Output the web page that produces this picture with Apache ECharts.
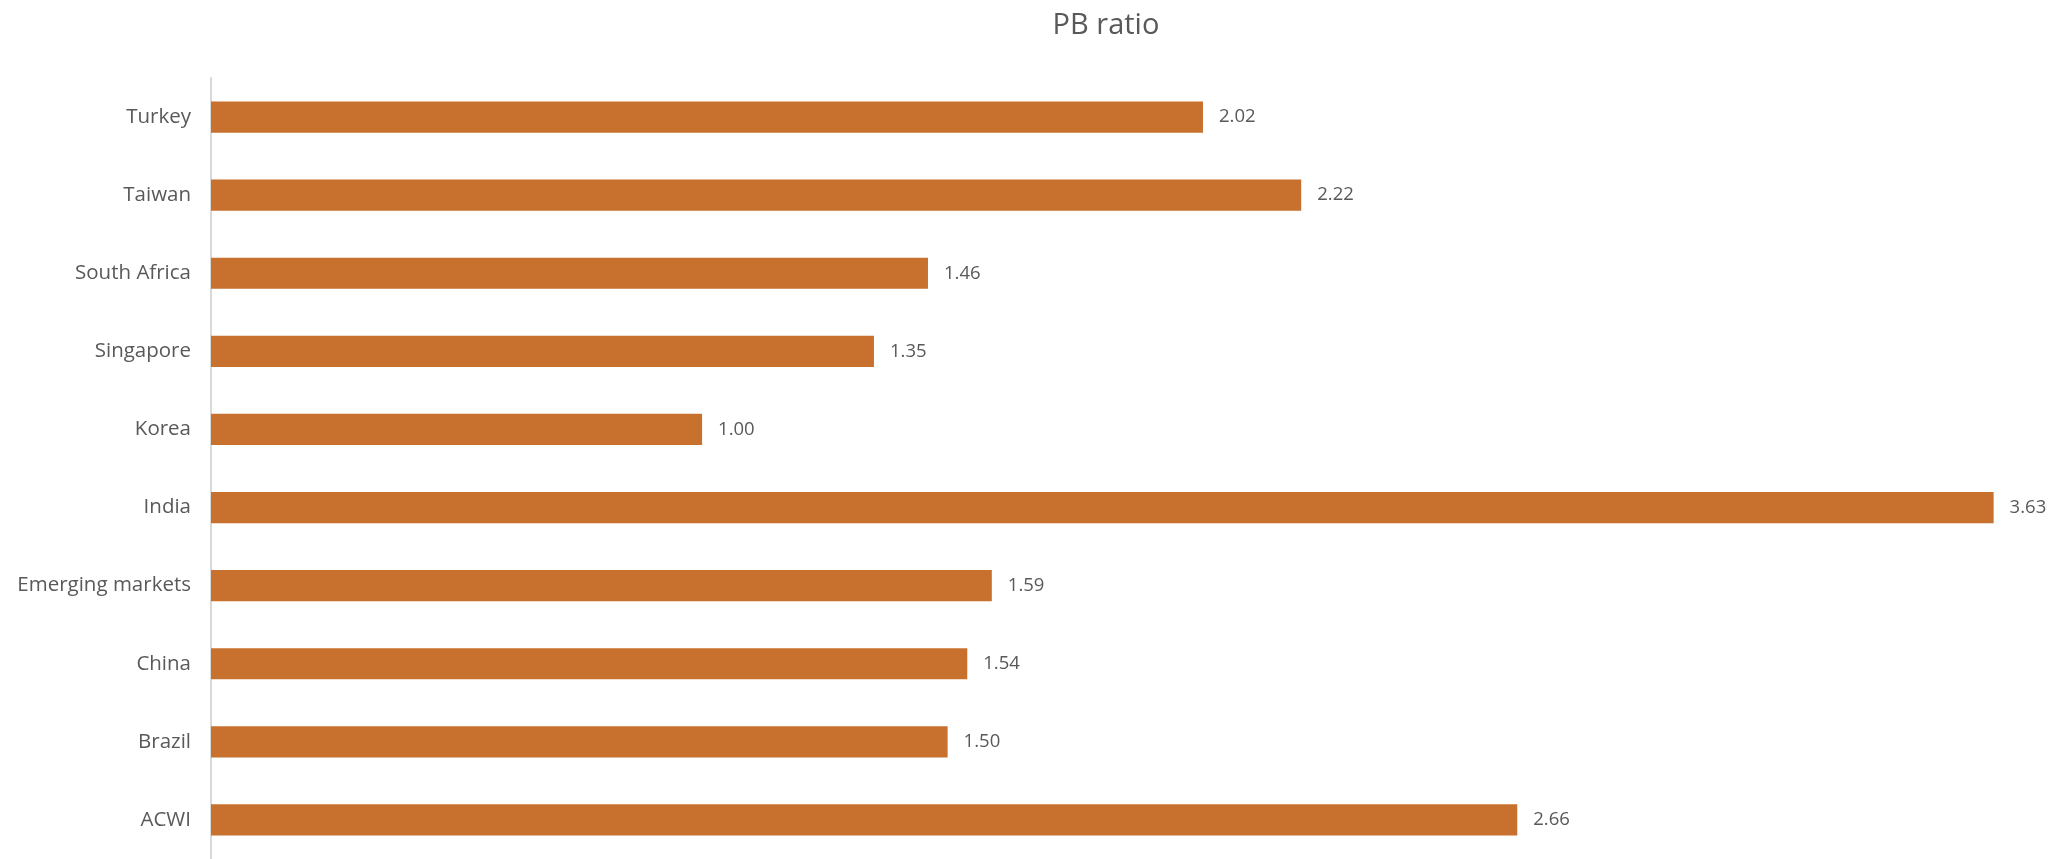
<!DOCTYPE html>
<html>
<head>
<meta charset="utf-8">
<script src="https://cdn.jsdelivr.net/npm/echarts@6/dist/echarts.min.js"></script>
<style>html,body{margin:0;padding:0;background:#fff}#c{width:2070px;height:859px}</style>
</head>
<body>
<div id="c"></div>
<script>
const categories = ["ACWI", "Brazil", "China", "Emerging markets", "India", "Korea", "Singapore", "South Africa", "Taiwan", "Turkey"];
const pbValues = [2.66, 1.50, 1.54, 1.59, 3.63, 1.00, 1.35, 1.46, 2.22, 2.02];
const titleText = "PB ratio";

const chart = echarts.init(document.getElementById('c'), null, {renderer: 'canvas'});
chart.setOption({
  backgroundColor: '#ffffff',
  animation: false,
  title: {
    text: titleText,
    left: 1101, top: 6, textAlign: 'center',
    textStyle: {fontFamily: 'Open Sans', fontSize: 29, fontWeight: 'normal', color: '#595959'}
  },
  grid: {left: 211, top: 78, width: 1817, height: 786, containLabel: false},
  xAxis: {
    type: 'value', min: 0, max: 3.7,
    axisLine: {show: false}, axisTick: {show: false}, axisLabel: {show: false}, splitLine: {show: false}
  },
  yAxis: {
    type: 'category', data: categories,
    axisLine: {show: true, lineStyle: {color: '#d9d9d9', width: 2}},
    axisTick: {show: false},
    axisLabel: {margin: 20, fontFamily: 'Open Sans', fontSize: 20.5, color: '#595959'}
  },
  series: [{
    type: 'bar', data: pbValues, barCategoryGap: '60%',
    itemStyle: {color: '#C8702E'},
    label: {
      show: true, position: 'right', distance: 16,
      fontFamily: 'Open Sans', fontSize: 18.5, color: '#595959',
      formatter: p => p.value.toFixed(2)
    }
  }]
});
</script>
</body>
</html>
